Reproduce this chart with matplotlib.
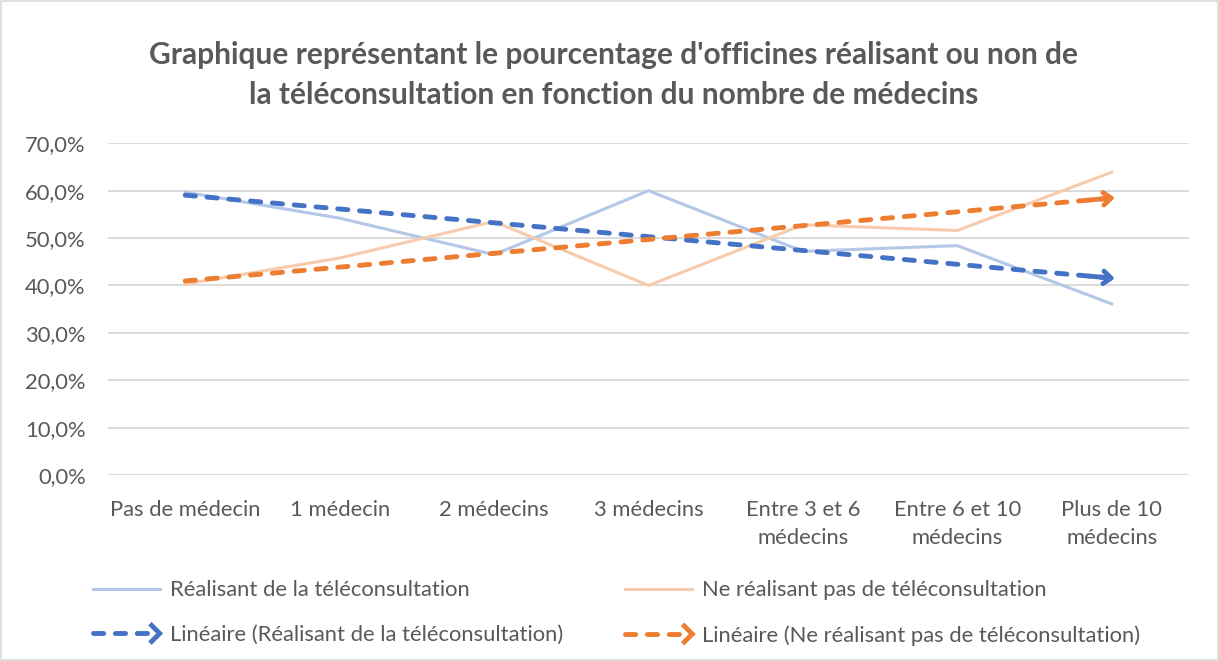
import numpy as np
import matplotlib
matplotlib.use("Agg")
import matplotlib.pyplot as plt
from matplotlib.lines import Line2D
from matplotlib.legend_handler import HandlerBase
from matplotlib.patches import Rectangle

categories = ["Pas de médecin", "1 médecin", "2 médecins", "3 médecins",
              "Entre 3 et 6\nmédecins", "Entre 6 et 10\nmédecins", "Plus de 10\nmédecins"]
realisant = [59.7, 54.2, 46.5, 60.0, 47.2, 48.4, 36.1]
non_realisant = [40.3, 45.8, 53.5, 40.0, 52.8, 51.6, 63.9]
yticks = [0, 10, 20, 30, 40, 50, 60, 70]

title = ("Graphique représentant le pourcentage d'officines réalisant ou non de\n"
         "la téléconsultation en fonction du nombre de médecins")
lbl_r = "Réalisant de la téléconsultation"
lbl_n = "Ne réalisant pas de téléconsultation"

plt.rcParams["font.family"] = ["Lato", "DejaVu Sans"]
GRAY = "#595959"
BLUE_L, ORANGE_L = "#B4C7E7", "#F8CBAD"
BLUE, ORANGE = "#4472C4", "#ED7D31"
DASH = (0, (2.1, 2.4))
FS = 15.8


class TrendHandler(HandlerBase):
    def create_artists(self, legend, orig, xd, yd, w, h, fontsize, trans):
        y = h / 2 - yd
        c = orig.get_color()
        line = Line2D([-xd, w - xd - 4], [y, y], color=c, lw=3.5,
                      linestyle=DASH, dash_capstyle="round", transform=trans)
        head = Line2D([w - xd - 7, w - xd, w - xd - 7], [y + 7, y, y - 7], color=c,
                      lw=3.5, solid_joinstyle="miter", solid_capstyle="butt", transform=trans)
        return [line, head]


fig = plt.figure(figsize=(12.19, 6.61), dpi=100)
fig.patches.append(Rectangle((0.001, 0.001), 0.998, 0.998, transform=fig.transFigure,
                             fill=False, edgecolor="#D9D9D9", lw=1.2))
ax = fig.add_axes([108 / 1219, 1 - 475 / 661, 1081 / 1219, (475 - 143.3) / 661])

x = np.arange(len(categories))
ax.plot(x, realisant, color=BLUE_L, lw=2.2, solid_joinstyle="miter", zorder=3)
ax.plot(x, non_realisant, color=ORANGE_L, lw=2.2, solid_joinstyle="miter", zorder=3)

trends = []
for vals, c in ((realisant, BLUE), (non_realisant, ORANGE)):
    a, b = np.polyfit(x, vals, 1)
    ty = a * x + b
    ln, = ax.plot(x, ty, color=c, lw=3.5, linestyle=DASH, dash_capstyle="round", zorder=4)
    ax.annotate("", xy=(x[-1] + 0.02, ty[-1] + a * 0.02), xytext=(x[-1] - 0.15, ty[-1] - a * 0.15),
                arrowprops=dict(arrowstyle="->,head_length=0.55,head_width=0.45", lw=3.5,
                                color=c, shrinkA=0, shrinkB=0), zorder=5)
    trends.append(ln)

ax.set_xlim(-0.5, len(categories) - 0.5)
ax.set_ylim(0, 70)
ax.set_yticks(yticks)
ax.set_yticklabels([f"{v:.1f}%".replace(".", ",") for v in yticks])
ax.set_xticks(x)
ax.set_xticklabels(categories, linespacing=1.5, va="top")
ax.tick_params(length=0, labelsize=FS, colors=GRAY, pad=18)
ax.tick_params(axis="y", pad=16)
ax.grid(axis="y", color="#D9D9D9", lw=1.3)
ax.set_axisbelow(True)
for s in ax.spines.values():
    s.set_visible(False)

fig.text(0.5035, 1 - 75 / 661, title, ha="center", va="center", fontsize=21.5, fontweight="bold",
         color=GRAY, linespacing=1.55)

h_r = Line2D([], [], color=BLUE_L, lw=2.2)
h_n = Line2D([], [], color=ORANGE_L, lw=2.2)
leg = fig.legend([h_r, trends[0], h_n, trends[1]],
                 [lbl_r, "Linéaire (" + lbl_r + ")", lbl_n, "Linéaire (" + lbl_n + ")"],
                 ncol=2, loc="center left", bbox_to_anchor=(73 / 1219, 1 - 613 / 661),
                 frameon=False, fontsize=FS, labelcolor=GRAY, handlelength=3.05,
                 handletextpad=0.45, columnspacing=2.85, labelspacing=1.13,
                 handler_map={trends[0]: TrendHandler(), trends[1]: TrendHandler()})

fig.savefig("out.png", dpi=100)
